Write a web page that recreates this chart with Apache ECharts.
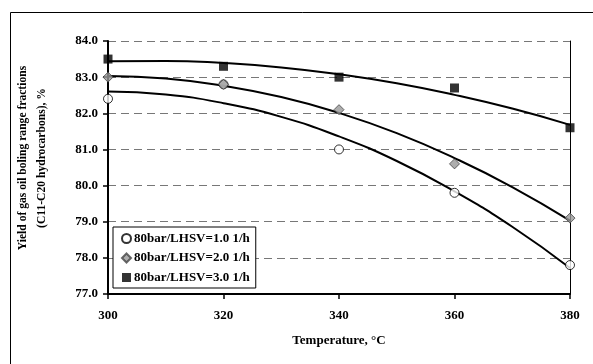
<!DOCTYPE html>
<html>
<head>
<meta charset="utf-8">
<script src="https://cdn.jsdelivr.net/npm/echarts@6/dist/echarts.min.js"></script>
<style>html,body{margin:0;padding:0;background:#fff;}#c{width:593px;height:364px;}</style>
</head>
<body>
<div id="c"></div>
<script>
// Measured data points
var temps = [300, 320, 340, 360, 380];
var lhsv1 = [82.4, 82.8, 81.0, 79.8, 77.8];
var lhsv2 = [83.0, 82.8, 82.1, 80.6, 79.1];
var lhsv3 = [83.5, 83.3, 83.0, 82.7, 81.6];
// Trend curves (every 10 °C)
var trendTemps = [300, 310, 320, 330, 340, 350, 360, 370, 380];
var trend1 = [82.60, 82.52, 82.28, 81.90, 81.36, 80.68, 79.84, 78.86, 77.72];
var trend2 = [83.03, 82.96, 82.76, 82.45, 82.01, 81.45, 80.76, 79.96, 79.03];
var trend3 = [83.44, 83.45, 83.39, 83.27, 83.08, 82.83, 82.51, 82.13, 81.68];
var names = ['80bar/LHSV=1.0 1/h', '80bar/LHSV=2.0 1/h', '80bar/LHSV=3.0 1/h'];
var yTitle = ['Yield of gas oil boling range fractions', '(C11-C20 hydrocarbons), %'];
var xTitle = 'Temperature, \u00B0C';

function pairs(xs, ys) { return xs.map(function (x, i) { return [x, ys[i]]; }); }

var FONT = '"Liberation Serif", "Times New Roman", serif';
var chart = echarts.init(document.getElementById('c'), null, { renderer: 'canvas' });

function trendSeries(d) {
  return {
    type: 'line', data: pairs(trendTemps, d), smooth: true, showSymbol: false, symbol: 'none',
    lineStyle: { color: '#000', width: 2 }, silent: true, z: 2, legendHoverLink: false
  };
}

chart.setOption({
  animation: false,
  backgroundColor: '#fff',
  grid: { left: 108, right: 23, top: 41, bottom: 70, containLabel: false },
  legend: {
    data: names,
    orient: 'vertical',
    left: 113, top: 227,
    itemWidth: 9, itemHeight: 9, itemGap: 6.5,
    padding: [5, 6, 4, 8],
    backgroundColor: '#fff', borderColor: '#000', borderWidth: 1,
    textStyle: { fontFamily: FONT, fontSize: 13, fontWeight: 'bold', color: '#000', padding: [0, 0, 0, -2] },
    selectedMode: false
  },
  xAxis: {
    type: 'value', min: 300, max: 380, interval: 20,
    name: xTitle, nameLocation: 'middle', nameGap: 40,
    nameTextStyle: { fontFamily: FONT, fontSize: 13, fontWeight: 'bold', color: '#000' },
    axisLine: { lineStyle: { color: '#000', width: 2 } },
    axisTick: { show: true, inside: false, length: 5, lineStyle: { color: '#000', width: 1.5 } },
    axisLabel: { fontFamily: FONT, fontSize: 13, fontWeight: 'bold', color: '#000', margin: 15 },
    splitLine: { show: false }
  },
  yAxis: [{
    type: 'value', min: 77, max: 84, interval: 1,
    axisLine: { show: true, lineStyle: { color: '#000', width: 2 } },
    axisTick: { show: true, inside: false, length: 5, lineStyle: { color: '#000', width: 1.5 } },
    axisLabel: { fontFamily: FONT, fontSize: 13, fontWeight: 'bold', color: '#000', margin: 10,
      formatter: function (v) { return v.toFixed(1); } },
    splitLine: { show: true, lineStyle: { color: '#777', width: 1, type: [8, 5] } }
  }, {
    type: 'value', min: 77, max: 84, interval: 1, position: 'right',
    axisLine: { show: true, lineStyle: { color: '#000', width: 1 } },
    axisTick: { show: false }, axisLabel: { show: false }, splitLine: { show: false }
  }],
  graphic: [
    { type: 'rect', shape: { x: 10.5, y: 12.5, width: 700, height: 500 }, style: { fill: 'none', stroke: '#000', lineWidth: 1 }, silent: true, z: -10 },
    { type: 'text', x: 32, y: 158, rotation: Math.PI / 2,
      style: { text: yTitle.join('\n'), fontFamily: FONT, fontSize: 11.6, fontWeight: 'bold', fill: '#000',
        align: 'center', verticalAlign: 'middle', lineHeight: 19 } }
  ],
  series: [
    trendSeries(trend1), trendSeries(trend2), trendSeries(trend3),
    { name: names[0], type: 'scatter', data: pairs(temps, lhsv1), symbol: 'circle', symbolSize: 9,
      itemStyle: { color: '#fff', borderColor: '#000', borderWidth: 1 }, z: 3 },
    { name: names[1], type: 'scatter', data: pairs(temps, lhsv2), symbol: 'diamond', symbolSize: [10, 10],
      itemStyle: { color: '#999', borderColor: '#444', borderWidth: 1 }, z: 4 },
    { name: names[2], type: 'scatter', data: pairs(temps, lhsv3), symbol: 'rect', symbolSize: 9,
      itemStyle: { color: '#000', borderColor: '#000', borderWidth: 0 }, z: 5 }
  ]
});
</script>
</body>
</html>
